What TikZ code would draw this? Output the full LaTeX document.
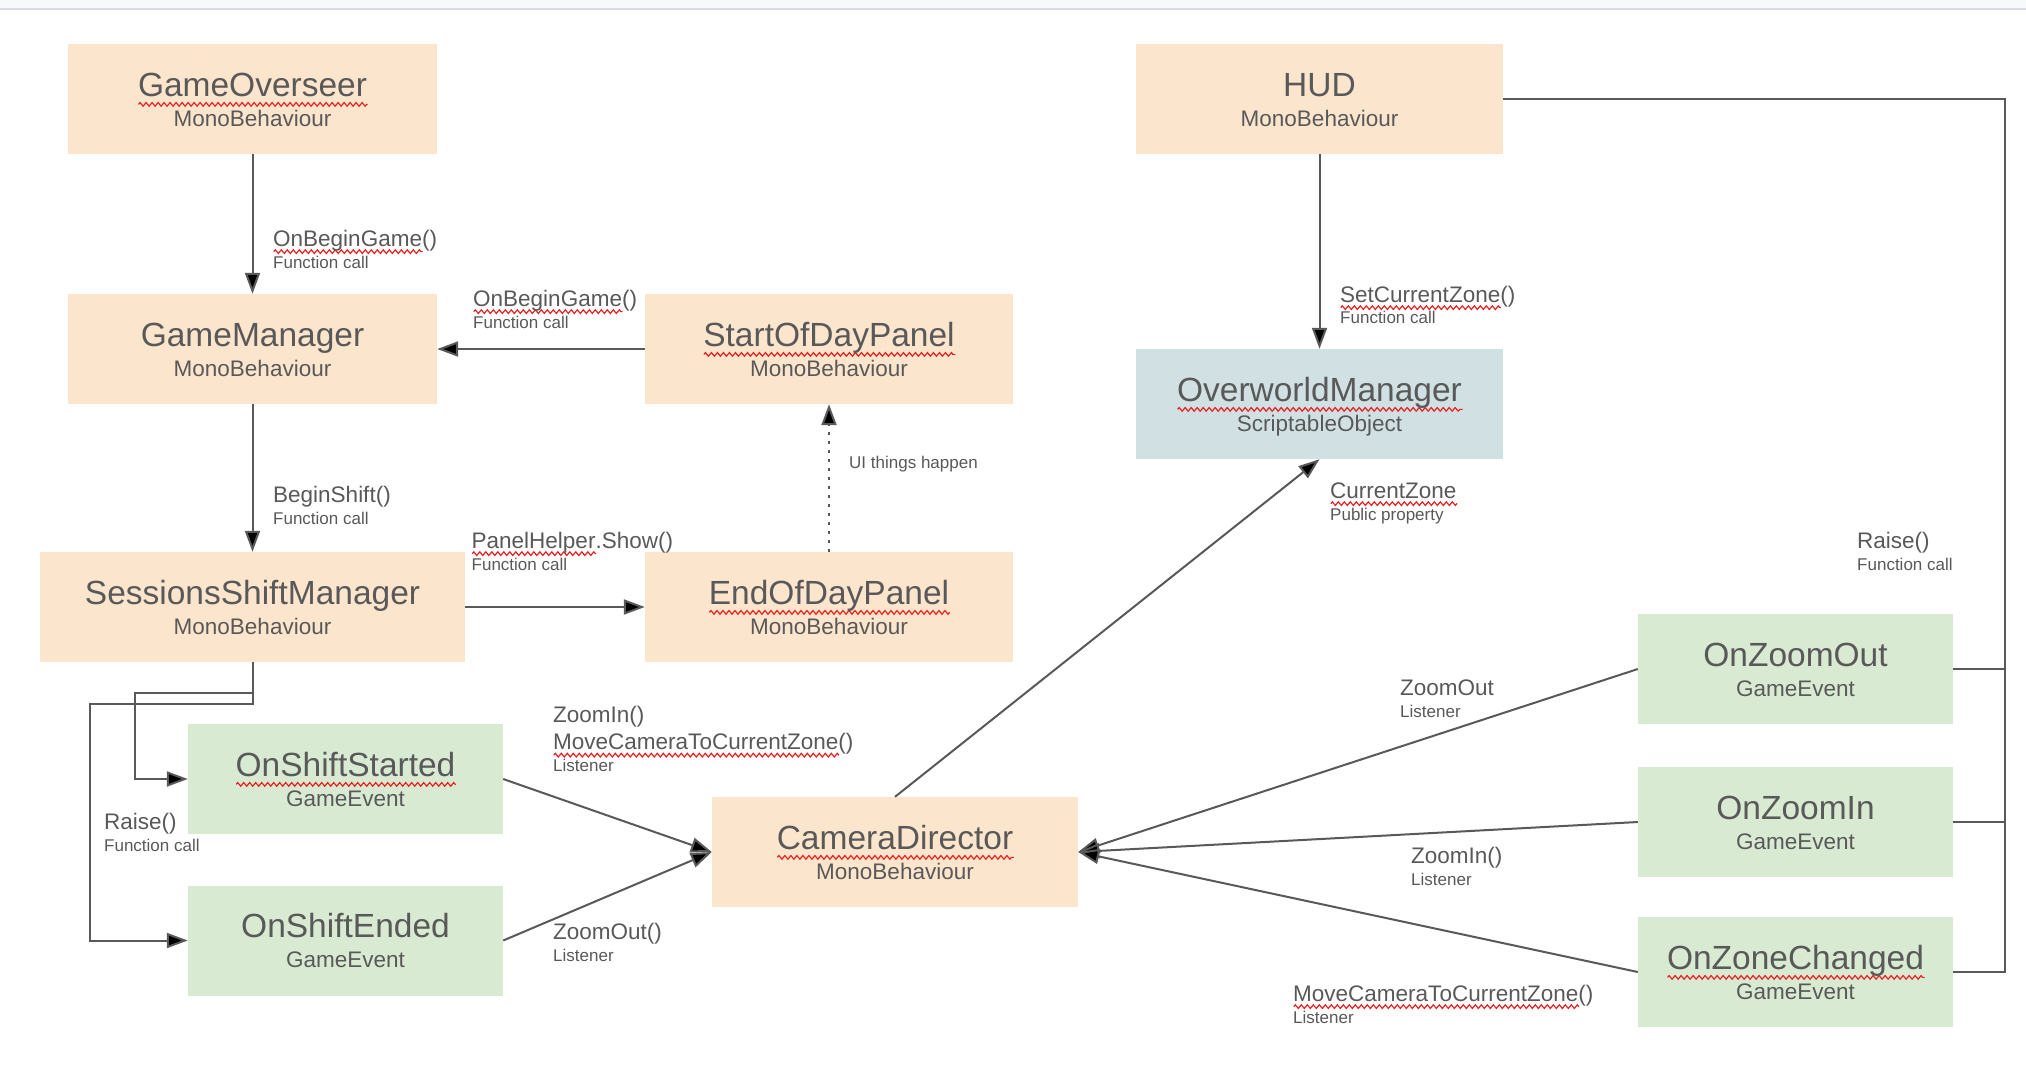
\documentclass[tikz,border=0pt]{standalone}
\usepackage{fontspec}
\setmainfont{Liberation Sans}
\usetikzlibrary{arrows.meta,decorations.pathmorphing}
\definecolor{peach}{HTML}{FCE5CD}
\definecolor{mint}{HTML}{D9EAD3}
\definecolor{steel}{HTML}{D0E0E3}
\definecolor{ink}{HTML}{595959}
\definecolor{sqred}{HTML}{E82020}
\definecolor{topbar}{HTML}{F8F9FA}
\definecolor{topline}{HTML}{DADCE0}
\newsavebox\sqbox
\newlength\sqlen
\newcommand\sq[1]{\sbox\sqbox{#1}\setlength\sqlen{\wd\sqbox}\rlap{\raisebox{-0.25em}[0pt][0pt]{\tikz[baseline=0pt]\draw[sqred,line width=1.2pt,decorate,decoration={zigzag,amplitude=1.8pt,segment length=6pt}] (0pt,0pt) -- (\sqlen,0pt);}}\usebox\sqbox}
\newcommand\mkbox[7]{%
  \node[cbox=#4, fill=#5] (#1) at (#2,#3) {};
  \node[ttl] (#1-t) at ([yshift=3pt]#1.center) {#6};
  \node[sub] (#1-s) at ([yshift=-27pt]#1.center) {#7};}
\begin{document}
\begin{tikzpicture}[x=1pt,y=-1pt,
  cbox/.style={minimum width=#1, minimum height=110pt, inner sep=0pt, draw=none},
  ttl/.style={font=\fontsize{33.5}{40}\selectfont, text=ink, anchor=base, inner sep=0pt},
  sub/.style={font=\fontsize{22.5}{27}\selectfont, text=ink, anchor=base, inner sep=0pt},
  lab/.style={font=\fontsize{22.5}{27}\selectfont, text=ink, anchor=base west, inner sep=0pt},
  sml/.style={font=\fontsize{17}{20}\selectfont, text=ink, anchor=base west, inner sep=0pt},
  conn/.style={draw=ink, line width=2pt, -{Triangle[length=21pt,width=15pt]}},
  bus/.style={draw=ink, line width=2pt},
  dotline/.style={draw=ink, line width=2pt, dash pattern=on 2.5pt off 6.5pt, -{Triangle[length=21pt,width=15pt]}}
]
\useasboundingbox (0,0) rectangle (2026,1088);
\fill[white] (0,0) rectangle (2026,1088);
\fill[topbar] (0,0) rectangle (2026,9);
\draw[topline, line width=1.5pt] (0,9) -- (2026,9);

% boxes
\mkbox{go}{252.5}{99}{369pt}{peach}{\sq{GameOverseer}}{MonoBehaviour}
\mkbox{gm}{252.5}{349}{369pt}{peach}{GameManager}{MonoBehaviour}
\mkbox{sod}{829}{349}{368pt}{peach}{\sq{StartOfDayPanel}}{MonoBehaviour}
\mkbox{ssm}{252.5}{607}{425pt}{peach}{SessionsShiftManager}{MonoBehaviour}
\mkbox{eod}{829}{607}{368pt}{peach}{\sq{EndOfDayPanel}}{MonoBehaviour}
\mkbox{oss}{345.5}{779}{315pt}{mint}{\sq{OnShiftStarted}}{GameEvent}
\mkbox{ose}{345.5}{940.5}{315pt}{mint}{OnShiftEnded}{GameEvent}
\mkbox{cd}{895}{852}{366pt}{peach}{\sq{CameraDirector}}{MonoBehaviour}
\mkbox{hud}{1319.5}{99}{367pt}{peach}{HUD}{MonoBehaviour}
\mkbox{owm}{1319.5}{404}{367pt}{steel}{\sq{OverworldManager}}{ScriptableObject}
\mkbox{ozo}{1795.5}{669}{315pt}{mint}{OnZoomOut}{GameEvent}
\mkbox{ozi}{1795.5}{822}{315pt}{mint}{OnZoomIn}{GameEvent}
\mkbox{ozc}{1795.5}{972}{315pt}{mint}{\sq{OnZoneChanged}}{GameEvent}

% helper coordinates
\coordinate (b1) at (135,693);
\coordinate (b2) at (90,704);
\coordinate (bz) at (2005,972);

% connectors
\draw[conn] (go.south) -- (gm.north);
\draw[conn] (sod.west) -- (gm.east);
\draw[conn] (gm.south) -- (ssm.north);
\draw[conn] (ssm.east) -- (eod.west);
\draw[dotline] (eod.north) -- (sod.south);
\draw[conn] (ssm.south) |- (b1) |- (oss.west);
\draw[conn] (ssm.south) |- (b2) |- (ose.west);
\draw[conn] (oss.east) -- (cd.west);
\draw[conn] (ose.east) -- (cd.west);
\draw[conn] (cd.north) -- (owm.south);
\draw[conn] (hud.south) -- (owm.north);
\draw[conn] (ozo.west) -- (cd.east);
\draw[conn] (ozi.west) -- (cd.east);
\draw[conn] (ozc.west) -- (cd.east);
\draw[bus] (hud.east) -| (bz) -- (ozc.east);
\draw[bus] (ozo.east) -- (ozo.east -| bz);
\draw[bus] (ozi.east) -- (ozi.east -| bz);

% labels
\node[lab] (l-obg1) at (273,246) {\sq{OnBeginGame}()};
\node[sml] (l-obg1s) at (273,268.5) {Function call};
\node[lab] (l-obg2) at (473,306) {\sq{OnBeginGame}()};
\node[sml] (l-obg2s) at (473,328) {Function call};
\node[lab] (l-bs) at (273,502) {BeginShift()};
\node[sml] (l-bss) at (273,524) {Function call};
\node[lab] (l-ph) at (471.5,548) {\sq{PanelHelper}.Show()};
\node[sml] (l-phs) at (471.5,570) {Function call};
\node[sml] (l-ui) at (849,468.5) {UI things happen};
\node[lab] (l-r1) at (104,829) {Raise()};
\node[sml] (l-r1s) at (104,851.5) {Function call};
\node[lab] (l-zi1) at (553,722.5) {ZoomIn()};
\node[lab] (l-mc1) at (553,749.5) {\sq{MoveCameraToCurrentZone}()};
\node[sml] (l-mc1s) at (553,771.5) {Listener};
\node[lab] (l-zo1) at (553,939) {ZoomOut()};
\node[sml] (l-zo1s) at (553,961) {Listener};
\node[lab] (l-scz) at (1340,302) {\sq{SetCurrentZone}()};
\node[sml] (l-sczs) at (1340,323) {Function call};
\node[lab] (l-cz) at (1330,498) {\sq{CurrentZone}};
\node[sml] (l-czs) at (1330,520) {Public property};
\node[lab] (l-r2) at (1857,548) {Raise()};
\node[sml] (l-r2s) at (1857,570) {Function call};
\node[lab] (l-zo2) at (1400,695.5) {ZoomOut};
\node[sml] (l-zo2s) at (1400,717.5) {Listener};
\node[lab] (l-zi2) at (1411,863) {ZoomIn()};
\node[sml] (l-zi2s) at (1411,885) {Listener};
\node[lab] (l-mc2) at (1293,1001) {\sq{MoveCameraToCurrentZone}()};
\node[sml] (l-mc2s) at (1293,1023) {Listener};
\end{tikzpicture}
\end{document}
